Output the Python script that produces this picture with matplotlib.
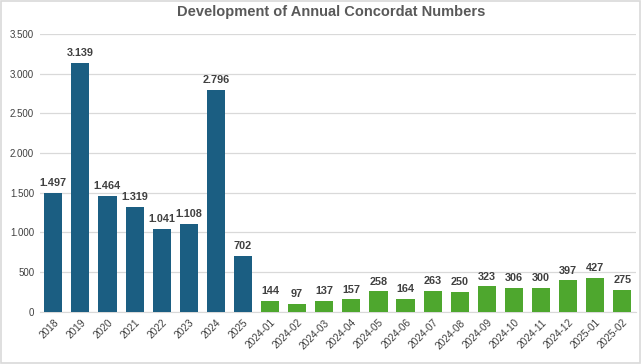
import matplotlib.pyplot as plt
from matplotlib.patches import Rectangle

years = ['2018', '2019', '2020', '2021', '2022', '2023', '2024', '2025']
year_vals = [1497, 3139, 1464, 1319, 1041, 1108, 2796, 702]
months = ['2024-01', '2024-02', '2024-03', '2024-04', '2024-05', '2024-06', '2024-07',
          '2024-08', '2024-09', '2024-10', '2024-11', '2024-12', '2025-01', '2025-02']
month_vals = [144, 97, 137, 157, 258, 164, 263, 250, 323, 306, 300, 397, 427, 275]

labels = years + months
vals = year_vals + month_vals
colors = ['#1B5E82'] * len(years) + ['#4EA72E'] * len(months)

plt.rcParams['font.family'] = ['Liberation Sans', 'DejaVu Sans']

fig = plt.figure(figsize=(6.41, 3.64), dpi=100)
fig.patches.append(Rectangle((0.002, 0.003), 0.996, 0.994, transform=fig.transFigure,
                             fill=False, edgecolor='#D9D9D9', linewidth=1.2))
ax = fig.add_axes([0.062, 0.143, 0.93, 0.764])

x = range(len(vals))
ax.bar(x, vals, width=0.67, color=colors, zorder=3)

def fmt(v):
    return f'{v:,}'.replace(',', '.')

for i, v in zip(x, vals):
    ax.text(i, v + 60, fmt(v), ha='center', va='bottom', fontsize=7.8,
            fontweight='bold', color='#404040')

ax.set_xlim(-0.5, len(vals) - 0.5)
ax.set_ylim(0, 3500)
ticks = range(0, 3501, 500)
ax.set_yticks(ticks)
ax.set_yticklabels([fmt(t) for t in ticks], fontsize=7, color='#404040')
ax.set_xticks(list(x))
ax.set_xticklabels(labels, rotation=45, ha='right', rotation_mode='anchor',
                   fontsize=7.3, color='#404040')
ax.tick_params(length=0, pad=4)
ax.grid(axis='y', color='#D9D9D9', linewidth=0.9, zorder=0)
for s in ['top', 'right', 'left']:
    ax.spines[s].set_visible(False)
ax.spines['bottom'].set_color('#D9D9D9')

fig.suptitle('Development of Annual Concordat Numbers', x=0.517, y=0.985,
             fontsize=10.5, fontweight='bold', color='#595959')

fig.savefig('out.png', dpi=100)
